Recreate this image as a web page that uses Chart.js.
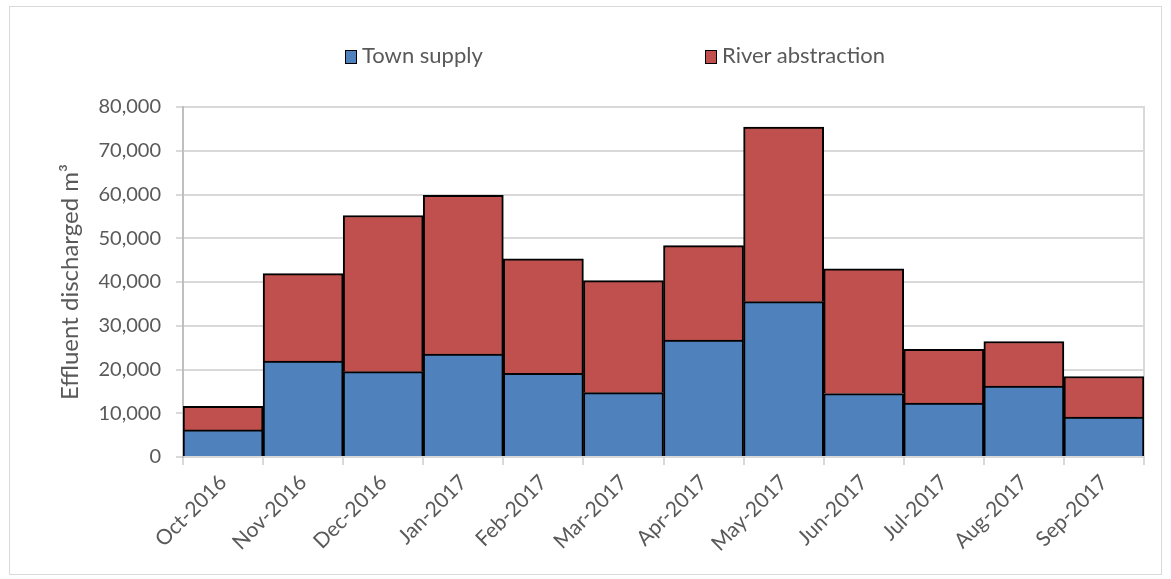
<!DOCTYPE html>
<html>
<head>
<meta charset="utf-8">
<script src="https://cdn.jsdelivr.net/npm/chart.js@4.4.1/dist/chart.umd.min.js"></script>
<style>
  body { margin: 0; background: #fff; font-family: Lato, sans-serif; }
  #frame { position: absolute; left: 9px; top: 6px; width: 1151px; height: 567px; border: 1px solid #d9d9d9; }
  #grafica { position: absolute; left: 0; top: 0; }
  .leg { position: absolute; top: 42px; font-size: 22px; color: #595959; line-height: 26px; }
  .caja { display: inline-block; width: 10px; height: 12px; border: 1.5px solid #000; vertical-align: -1px; margin-right: 5px; }
</style>
</head>
<body>
<div id="frame"></div>
<canvas id="grafica" width="1171" height="579"></canvas>
<div class="leg" style="left:345px"><span class="caja" style="background:#4f81bd"></span>Town supply</div>
<div class="leg" style="left:705px"><span class="caja" style="background:#c0504d"></span>River abstraction</div>
<script>
// Meses (eje x)
const meses = ["Oct-2016", "Nov-2016", "Dec-2016", "Jan-2017", "Feb-2017", "Mar-2017",
               "Apr-2017", "May-2017", "Jun-2017", "Jul-2017", "Aug-2017", "Sep-2017"];

// Valores (m3)
const townSupply = [6200, 21900, 19500, 23500, 19100, 14700, 26700, 35500, 14500, 12300, 16200, 9100];
const riverAbstraction = [5400, 20000, 35700, 36300, 26200, 25600, 21600, 39900, 28500, 12300, 10200, 9300];

const yTitulo = "Effluent discharged m\u00b3";

const ctx = document.getElementById("grafica").getContext("2d");

new Chart(ctx, {
  type: "bar",
  data: {
    labels: meses,
    datasets: [
      {
        label: "Town supply",
        data: townSupply,
        backgroundColor: "#4f81bd",
        borderColor: "#000",
        borderWidth: 2
      },
      {
        label: "River abstraction",
        data: riverAbstraction,
        backgroundColor: "#c0504d",
        borderColor: "#000",
        borderWidth: 2
      }
    ]
  },
  options: {
    responsive: false,
    animation: false,
    layout: { padding: { left: 8, top: 107, right: 27, bottom: 10 } },
    datasets: { bar: { barPercentage: 1, categoryPercentage: 1 } },
    plugins: { legend: { display: false }, tooltip: { enabled: false } },
    scales: {
      x: {
        stacked: true,
        afterFit: s => { s.height = 112; },
        grid: { offset: true, drawOnChartArea: false, tickLength: 8, color: "#d9d9d9", lineWidth: 2 },
        border: { color: "#d9d9d9", width: 2 },
        ticks: {
          color: "#595959",
          font: { family: "Lato", size: 21 },
          minRotation: 45,
          maxRotation: 45,
          padding: 5
        }
      },
      y: {
        stacked: true,
        min: 0,
        max: 80000,
        afterFit: s => { s.width = 175; },
        grid: { color: "#d9d9d9", lineWidth: 2, tickLength: 7 },
        border: { color: "#bfbfbf", width: 2 },
        ticks: {
          stepSize: 10000,
          color: "#595959",
          font: { family: "Lato", size: 20 },
          padding: 15,
          callback: v => v.toLocaleString("en-US")
        },
        title: {
          display: true,
          text: yTitulo,
          color: "#595959",
          font: { family: "Lato", size: 24 },
          padding: { top: 48, bottom: 0 }
        }
      },
      y2: {
        position: "right",
        min: 0,
        max: 80000,
        afterFit: s => { s.width = 0; },
        grid: { display: false },
        ticks: { display: false },
        border: { color: "#d9d9d9", width: 2 }
      }
    }
  }
});
</script>
</body>
</html>
